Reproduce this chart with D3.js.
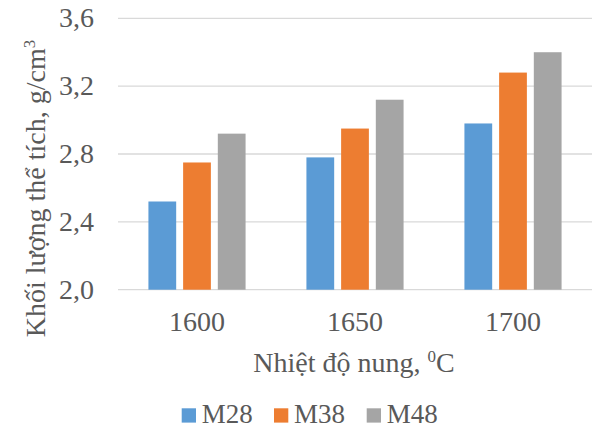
<!DOCTYPE html>
<html><head><meta charset="utf-8">
<script src="https://cdn.jsdelivr.net/npm/d3@7"></script>
<style>body{margin:0;background:#fff}svg{display:block}</style>
</head><body>
<script>
const categories = ["1600", "1650", "1700"];
const seriesNames = ["M28", "M38", "M48"];
const M28 = [2.52, 2.78, 2.98];
const M38 = [2.75, 2.95, 3.28];
const M48 = [2.92, 3.12, 3.40];
const yTicks = [2.0, 2.4, 2.8, 3.2, 3.6];
const colors = ["#5B9BD5", "#ED7D31", "#A5A5A5"];
const seriesValues = [M28, M38, M48];

(function () {
const W = 592, H = 429;
const FF = "'Liberation Serif'";
const svg = d3.select("body").append("svg").attr("width", W).attr("height", H);
const pl = 118, pr = 592, pt = 18.3, pb = 289.7;
const x = d3.scaleBand().domain(categories).range([pl, pr]).paddingInner(0).paddingOuter(0);
const xs = d3.scaleBand().domain(seriesNames).range([0, x.bandwidth()]).paddingInner(0.2).paddingOuter(0.877);
const y = d3.scaleLinear().domain([2.0, 3.6]).range([pb, pt]);
const fmt = d => d.toFixed(1).replace(".", ",");

svg.append("g").selectAll("line").data(yTicks).join("line")
  .attr("x1", pl).attr("x2", pr)
  .attr("y1", d => y(d)).attr("y2", d => y(d))
  .attr("stroke", "#D9D9D9").attr("stroke-width", 1.3);

const yAxis = d3.axisLeft(y).tickValues(yTicks).tickFormat(fmt).tickSize(0).tickPadding(24);
const ga = svg.append("g").attr("transform", `translate(${pl},0)`).call(yAxis);
ga.select(".domain").remove();
ga.selectAll("text").style("font-family", FF).style("font-size", "28px").attr("fill", "#595959").attr("dy", "0.3em");

seriesNames.forEach((s, i) => {
  svg.append("g").selectAll("rect").data(seriesValues[i]).join("rect")
    .attr("x", (d, j) => x(categories[j]) + xs(s))
    .attr("width", xs.bandwidth())
    .attr("y", d => y(d))
    .attr("height", d => y(2.0) - y(d))
    .attr("fill", colors[i]);
});

const xAxis = d3.axisBottom(x).tickSize(0).tickPadding(21.4);
const gx = svg.append("g").attr("transform", `translate(0,${pb})`).call(xAxis);
gx.select(".domain").remove();
gx.selectAll("text").style("font-family", FF).style("font-size", "28px").attr("fill", "#595959");

const xt = svg.append("text").attr("x", 354).attr("y", 371.7).attr("text-anchor", "middle")
  .style("font-family", FF).style("font-size", "28px").attr("fill", "#595959");
xt.append("tspan").text("Nhiệt độ nung, ");
xt.append("tspan").text("0").style("font-size", "17px").attr("dy", -10);
xt.append("tspan").text("C").attr("dy", 10);

const yt = svg.append("text").attr("transform", "translate(45,188.5) rotate(-90)").attr("text-anchor", "middle")
  .style("font-family", FF).style("font-size", "28px").attr("fill", "#595959");
yt.append("tspan").text("Khối lượng thể tích, g/cm");
yt.append("tspan").text("3").style("font-size", "17px").attr("dy", -10);

const lx = [181.7, 274, 366.7];
const lg = svg.append("g");
seriesNames.forEach((s, i) => {
  lg.append("rect").attr("x", lx[i]).attr("y", 408.3).attr("width", 14.3).attr("height", 14.3).attr("fill", colors[i]);
  lg.append("text").attr("x", lx[i] + 20).attr("y", 423).style("font-family", FF).style("font-size", "27px").attr("fill", "#595959").text(s);
});
})();
</script>
</body></html>
